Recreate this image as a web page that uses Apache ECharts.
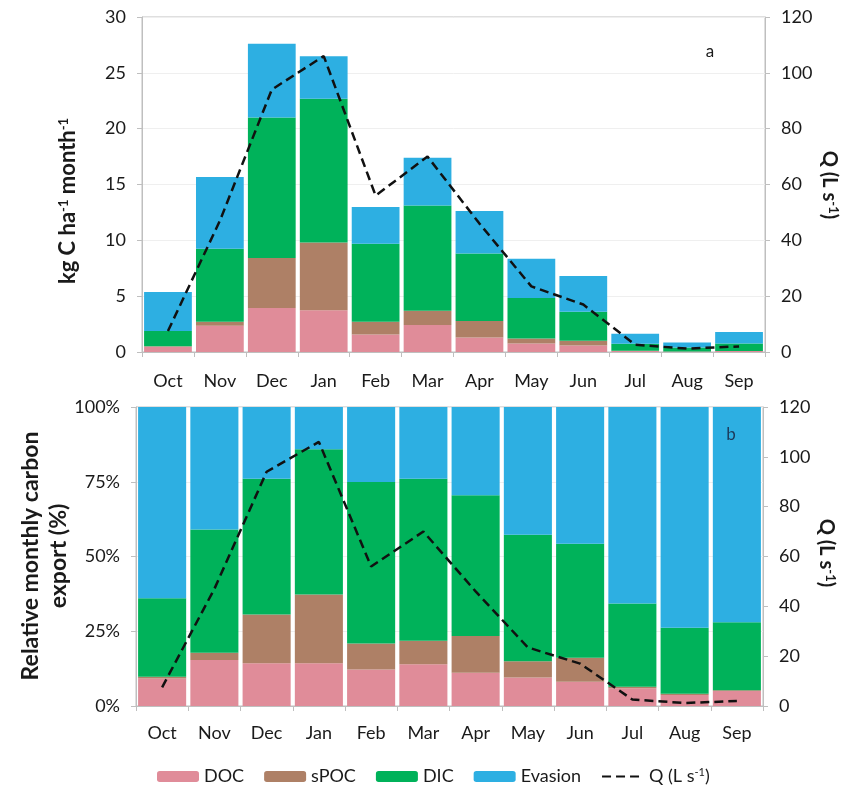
<!DOCTYPE html>
<html>
<head>
<meta charset="utf-8">
<script src="https://cdn.jsdelivr.net/npm/echarts@6/dist/echarts.min.js"></script>
<style>
html,body{margin:0;padding:0;background:#fff;}
#chart{width:845px;height:786px;}
</style>
</head>
<body>
<div id="chart"></div>
<script>
// ---- data ----
const months = ['Oct','Nov','Dec','Jan','Feb','Mar','Apr','May','Jun','Jul','Aug','Sep'];
// (a) monthly export, kg C ha-1 month-1
const docAbs  = [0.47, 2.35, 3.95, 3.75, 1.57, 2.41, 1.30, 0.77, 0.58, 0.10, 0.03, 0.09];
const spocAbs = [0.05, 0.37, 4.47, 6.05, 1.13, 1.28, 1.48, 0.43, 0.42, 0.01, 0.01, 0.01];
const dicAbs  = [1.35, 6.53, 12.57, 12.89, 7.00, 9.44, 6.03, 3.64, 2.60, 0.64, 0.36, 0.66];
const evaAbs  = [3.50, 6.42, 6.61, 3.79, 3.29, 4.27, 3.82, 3.52, 3.20, 0.89, 0.45, 1.04];
// (b) relative monthly export, %
const docPct  = [9.2, 15.4, 14.3, 14.3, 12.2, 14.0, 11.1, 9.5, 8.1, 5.9, 3.7, 5.0];
const spocPct = [0.6, 2.4, 16.3, 23.0, 8.7, 7.8, 12.3, 5.5, 8.0, 0.5, 0.4, 0.3];
const dicPct  = [26.2, 41.2, 45.4, 48.6, 54.0, 54.2, 47.1, 42.3, 38.2, 27.9, 22.1, 22.7];
const evaPct  = [64.0, 41.0, 24.0, 14.1, 25.1, 24.0, 29.5, 42.7, 45.7, 65.7, 73.8, 72.0];
// discharge Q (L s-1)
const discharge = [7.5, 47, 94, 106, 56, 70, 46, 23.5, 17, 2.6, 1.2, 2.0];
// axis ticks
const leftTicksA = {min: 0, max: 30, interval: 5};
const leftTicksB = {min: 0, max: 100, interval: 25};
const rightTicks = {min: 0, max: 120, interval: 20};

const FONT = 'Lato';
const colors = {DOC: '#E08C99', sPOC: '#AE8066', DIC: '#00B25A', Evasion: '#2DAFE2'};
const axisCol = '#BFBFBF';
const txtCol = '#1a1a1a';

const chart = echarts.init(document.getElementById('chart'), null, {renderer: 'canvas'});

function catAxis(gi, margin) {
  return {
    type: 'category', gridIndex: gi, data: months,
    axisLine: {lineStyle: {color: axisCol, width: 1}},
    axisTick: {show: true, length: 5, lineStyle: {color: axisCol}},
    axisLabel: {color: txtCol, fontFamily: FONT, fontSize: 18, margin: margin}
  };
}
function valAxis(gi, t, pos, fmt, split) {
  return {
    type: 'value', gridIndex: gi, position: pos, min: t.min, max: t.max, interval: t.interval,
    axisLine: {show: true, lineStyle: {color: axisCol, width: 1}},
    axisTick: {show: true, length: 5, lineStyle: {color: axisCol}},
    axisLabel: {color: txtCol, fontFamily: FONT, fontSize: 18, margin: 16, formatter: fmt},
    splitLine: {show: split, lineStyle: {color: '#EFEFEF', width: 1}}
  };
}
function barSeries(name, data, xi, yi, stack) {
  return {
    name, type: 'bar', stack, xAxisIndex: xi, yAxisIndex: yi, data,
    barCategoryGap: '8%', itemStyle: {color: colors[name]}, emphasis: {disabled: true}
  };
}
function qSeries(xi, yi) {
  return {
    name: 'Q', type: 'line', xAxisIndex: xi, yAxisIndex: yi, data: discharge,
    symbol: 'none', smooth: false, z: 5,
    lineStyle: {color: '#111', width: 2.5, type: [9, 5]},
    itemStyle: {color: '#111'}
  };
}

const supRich = {
  sup: {fontFamily: FONT, fontSize: 13, fontWeight: 'bold', fill: txtCol, verticalAlign: 'top', padding: [0, 0, 9, 0]}
};

const option = {
  animation: false,
  backgroundColor: '#fff',
  grid: [
    {left: 142, right: 80, top: 17, height: 335, show: true, borderColor: axisCol, borderWidth: 1},
    {left: 136, right: 82, top: 407, height: 299, show: true, borderColor: axisCol, borderWidth: 1}
  ],
  xAxis: [catAxis(0, 20), catAxis(1, 18)],
  yAxis: [
    valAxis(0, leftTicksA, 'left', '{value}', true),
    valAxis(0, rightTicks, 'right', '{value}', false),
    valAxis(1, leftTicksB, 'left', '{value}%', true),
    valAxis(1, rightTicks, 'right', '{value}', false)
  ],
  legend: {
    left: 152, top: 762, itemWidth: 42, itemHeight: 11, itemGap: 20,
    data: ['DOC', 'sPOC', 'DIC', 'Evasion', {name: 'Q', itemStyle: {opacity: 0}}],
    textStyle: {fontFamily: FONT, fontSize: 18, color: txtCol,
      rich: {sup: {fontFamily: FONT, fontSize: 11, color: txtCol, verticalAlign: 'top', padding: [0,0,8,0]}}},
    formatter: n => n === 'Q' ? 'Q (L s{sup|-1})' : n
  },
  series: [
    barSeries('DOC', docAbs, 0, 0, 'a'),
    barSeries('sPOC', spocAbs, 0, 0, 'a'),
    barSeries('DIC', dicAbs, 0, 0, 'a'),
    barSeries('Evasion', evaAbs, 0, 0, 'a'),
    qSeries(0, 1),
    barSeries('DOC', docPct, 1, 2, 'b'),
    barSeries('sPOC', spocPct, 1, 2, 'b'),
    barSeries('DIC', dicPct, 1, 2, 'b'),
    barSeries('Evasion', evaPct, 1, 2, 'b'),
    qSeries(1, 3)
  ],
  graphic: [
    {type: 'text', x: 68, y: 201, rotation: Math.PI / 2,
      style: {text: 'kg C ha{sup|-1} month{sup|-1}', fontFamily: FONT, fontSize: 22, fontWeight: 'bold',
        fill: txtCol, align: 'center', verticalAlign: 'middle', rich: supRich}},
    {type: 'text', x: 45, y: 556, rotation: Math.PI / 2,
      style: {text: 'Relative monthly carbon\nexport (%)', fontFamily: FONT, fontSize: 23, fontWeight: 'bold',
        fill: txtCol, align: 'center', verticalAlign: 'middle', lineHeight: 28}},
    {type: 'text', x: 829, y: 185, rotation: -Math.PI / 2,
      style: {text: 'Q (L s{sup|-1})', fontFamily: FONT, fontSize: 20, fontWeight: 'bold',
        fill: txtCol, align: 'center', verticalAlign: 'middle', rich: supRich}},
    {type: 'text', x: 826, y: 553, rotation: -Math.PI / 2,
      style: {text: 'Q (L s{sup|-1})', fontFamily: FONT, fontSize: 20, fontWeight: 'bold',
        fill: txtCol, align: 'center', verticalAlign: 'middle', rich: supRich}},
    {type: 'text', x: 710, y: 52, style: {text: 'a', fontFamily: FONT, fontSize: 17, fill: txtCol, align: 'center', verticalAlign: 'middle'}},
    {type: 'text', x: 731, y: 435, z: 10, style: {text: 'b', fontFamily: FONT, fontSize: 17, fill: '#1d3a5a', align: 'center', verticalAlign: 'middle'}}
  ]
};
chart.setOption(option);
</script>
</body>
</html>
